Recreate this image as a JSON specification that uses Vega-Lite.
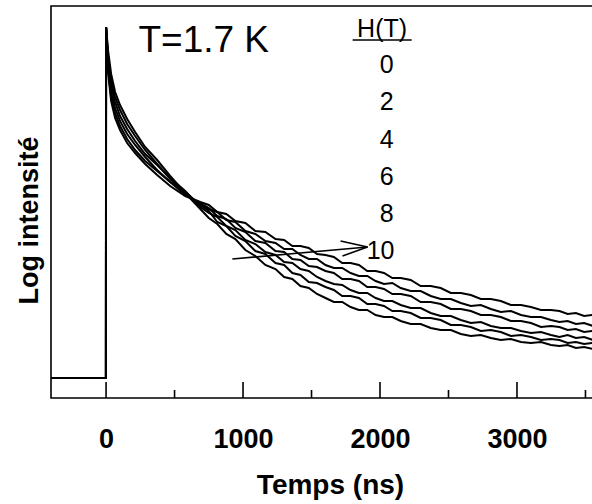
{
  "$schema": "https://vega.github.io/schema/vega-lite/v6.json",
  "width": 542,
  "height": 392,
  "autosize": {"type": "none"},
  "padding": {"left": 51, "top": 6, "right": 0, "bottom": 106},
  "background": "white",
  "config": {
    "view": {"stroke": "black", "strokeWidth": 1.6},
    "font": "Liberation Sans"
  },
  "layer": [
    {
      "data": {"values": [
        {"t": -402, "c0": 20, "c1": 20, "c2": 20, "c3": 20, "c4": 20, "c5": 20},
        {"t": -1, "c0": 20, "c1": 20, "c2": 20, "c3": 20, "c4": 20, "c5": 20},
        {"t": 0, "c0": 371, "c1": 371, "c2": 371, "c3": 371, "c4": 371, "c5": 371},
        {"t": 15, "c0": 325, "c1": 329, "c2": 333, "c3": 338, "c4": 342, "c5": 347},
        {"t": 37, "c0": 297, "c1": 301, "c2": 306, "c3": 312, "c4": 318, "c5": 324},
        {"t": 66, "c0": 280, "c1": 285, "c2": 290, "c3": 296, "c4": 301, "c5": 306},
        {"t": 102, "c0": 268, "c1": 272, "c2": 277, "c3": 282, "c4": 288, "c5": 293},
        {"t": 154, "c0": 255, "c1": 259, "c2": 264, "c3": 269, "c4": 274, "c5": 279},
        {"t": 212, "c0": 245, "c1": 248, "c2": 253, "c3": 257, "c4": 262, "c5": 266},
        {"t": 285, "c0": 234, "c1": 237, "c2": 241, "c3": 244, "c4": 248, "c5": 251},
        {"t": 373, "c0": 223, "c1": 227, "c2": 228, "c3": 233, "c4": 234, "c5": 238},
        {"t": 468, "c0": 212, "c1": 216, "c2": 216, "c3": 220, "c4": 219, "c5": 222},
        {"t": 578, "c0": 202, "c1": 206, "c2": 203, "c3": 207, "c4": 204, "c5": 205},
        {"t": 688, "c0": 196, "c1": 193, "c2": 195, "c3": 191, "c4": 193, "c5": 189},
        {"t": 750, "c0": 193, "c1": 189, "c2": 190, "c3": 185, "c4": 187, "c5": 180},
        {"t": 812, "c0": 186, "c1": 186, "c2": 182, "c3": 181, "c4": 176, "c5": 174},
        {"t": 878, "c0": 184, "c1": 178, "c2": 179, "c3": 172, "c4": 172, "c5": 164},
        {"t": 944, "c0": 177, "c1": 176, "c2": 170, "c3": 168, "c4": 162, "c5": 159},
        {"t": 1017, "c0": 175, "c1": 167, "c2": 166, "c3": 158, "c4": 157, "c5": 148},
        {"t": 1090, "c0": 167, "c1": 164, "c2": 157, "c3": 154, "c4": 147, "c5": 142},
        {"t": 1163, "c0": 166, "c1": 157, "c2": 155, "c3": 146, "c4": 144, "c5": 133},
        {"t": 1237, "c0": 159, "c1": 155, "c2": 147, "c3": 143, "c4": 135, "c5": 129},
        {"t": 1300, "c0": 158, "c1": 149, "c2": 146, "c3": 136, "c4": 133, "c5": 121},
        {"t": 1360, "c0": 152, "c1": 149, "c2": 139, "c3": 135, "c4": 125, "c5": 119},
        {"t": 1419, "c0": 152, "c1": 143, "c2": 138, "c3": 129, "c4": 123, "c5": 112},
        {"t": 1480, "c0": 150, "c1": 139, "c2": 132, "c3": 127, "c4": 116, "c5": 110},
        {"t": 1540, "c0": 144, "c1": 139, "c2": 131, "c3": 121, "c4": 115, "c5": 104},
        {"t": 1602, "c0": 143, "c1": 133, "c2": 127, "c3": 117, "c4": 111, "c5": 100},
        {"t": 1663, "c0": 141, "c1": 130, "c2": 125, "c3": 114, "c4": 108, "c5": 96},
        {"t": 1724, "c0": 135, "c1": 130, "c2": 119, "c3": 113, "c4": 102, "c5": 96},
        {"t": 1785, "c0": 135, "c1": 125, "c2": 119, "c3": 108, "c4": 102, "c5": 91},
        {"t": 1846, "c0": 133, "c1": 122, "c2": 117, "c3": 105, "c4": 100, "c5": 88},
        {"t": 1907, "c0": 127, "c1": 122, "c2": 111, "c3": 105, "c4": 94, "c5": 88},
        {"t": 1968, "c0": 127, "c1": 117, "c2": 111, "c3": 100, "c4": 94, "c5": 83},
        {"t": 2029, "c0": 125, "c1": 114, "c2": 109, "c3": 97, "c4": 92, "c5": 81},
        {"t": 2090, "c0": 120, "c1": 115, "c2": 104, "c3": 97, "c4": 87, "c5": 81},
        {"t": 2151, "c0": 120, "c1": 110, "c2": 104, "c3": 93, "c4": 87, "c5": 77},
        {"t": 2224, "c0": 118, "c1": 107, "c2": 102, "c3": 90, "c4": 85, "c5": 74},
        {"t": 2297, "c0": 112, "c1": 107, "c2": 96, "c3": 90, "c4": 80, "c5": 74},
        {"t": 2370, "c0": 112, "c1": 102, "c2": 96, "c3": 85, "c4": 80, "c5": 70},
        {"t": 2443, "c0": 110, "c1": 99, "c2": 94, "c3": 82, "c4": 78, "c5": 68},
        {"t": 2517, "c0": 105, "c1": 99, "c2": 89, "c3": 82, "c4": 73, "c5": 68},
        {"t": 2590, "c0": 105, "c1": 95, "c2": 89, "c3": 78, "c4": 73, "c5": 64},
        {"t": 2663, "c0": 103, "c1": 92, "c2": 87, "c3": 75, "c4": 71, "c5": 62},
        {"t": 2736, "c0": 99, "c1": 93, "c2": 83, "c3": 76, "c4": 67, "c5": 63},
        {"t": 2809, "c0": 99, "c1": 89, "c2": 83, "c3": 72, "c4": 68, "c5": 60},
        {"t": 2882, "c0": 97, "c1": 86, "c2": 81, "c3": 70, "c4": 66, "c5": 58},
        {"t": 2956, "c0": 93, "c1": 87, "c2": 77, "c3": 70, "c4": 62, "c5": 59},
        {"t": 3029, "c0": 93, "c1": 83, "c2": 77, "c3": 67, "c4": 63, "c5": 56},
        {"t": 3102, "c0": 91, "c1": 81, "c2": 75, "c3": 65, "c4": 61, "c5": 55},
        {"t": 3175, "c0": 88, "c1": 81, "c2": 71, "c3": 66, "c4": 58, "c5": 56},
        {"t": 3248, "c0": 88, "c1": 78, "c2": 72, "c3": 63, "c4": 59, "c5": 53},
        {"t": 3310, "c0": 87, "c1": 76, "c2": 71, "c3": 61, "c4": 58, "c5": 52},
        {"t": 3370, "c0": 84, "c1": 77, "c2": 68, "c3": 63, "c4": 55, "c5": 53},
        {"t": 3430, "c0": 85, "c1": 74, "c2": 69, "c3": 60, "c4": 56, "c5": 50},
        {"t": 3490, "c0": 82, "c1": 75, "c2": 66, "c3": 61, "c4": 54, "c5": 51},
        {"t": 3555, "c0": 83, "c1": 72, "c2": 67, "c3": 58, "c4": 55, "c5": 49}
      ]},
      "transform": [{"fold": ["c0", "c1", "c2", "c3", "c4", "c5"], "as": ["curve", "y"]}],
      "mark": {"type": "line", "color": "black", "strokeWidth": 2, "clip": true},
      "encoding": {
        "x": {"field": "t", "type": "quantitative",
          "scale": {"domain": [-402, 3555], "nice": false, "zero": false},
          "axis": {"values": [0, 1000, 2000, 3000], "format": "d", "domain": false, "ticks": false, "grid": false,
            "labelFont": "Liberation Sans", "labelFontSize": 27, "labelFontWeight": "bold", "labelColor": "black",
            "labelPadding": 28, "labelFlush": false,
            "title": "Temps (ns)", "titleFont": "Liberation Sans", "titleFontSize": 28, "titleFontWeight": "bold",
            "titleColor": "black", "titleBaseline": "alphabetic", "titleY": 95, "titleX": 279}},
        "y": {"field": "y", "type": "quantitative",
          "scale": {"domain": [0, 392], "nice": false},
          "axis": {"domain": false, "ticks": false, "labels": false, "grid": false,
            "title": "Log intensité", "titleFont": "Liberation Sans", "titleFontSize": 27, "titleFontWeight": "bold",
            "titleColor": "black", "titleAngle": -90, "titleBaseline": "alphabetic", "titleAlign": "center",
            "titleX": -14, "titleY": 214}},
        "detail": {"field": "curve", "type": "nominal"}
      }
    },
    {
      "data": {"values": [{"t": 0}, {"t": 1000}, {"t": 2000}, {"t": 3000}]},
      "mark": {"type": "rule", "color": "black", "strokeWidth": 1.6},
      "encoding": {
        "x": {"field": "t", "type": "quantitative"},
        "y": {"datum": 0},
        "y2": {"datum": 16}
      }
    },
    {
      "data": {"values": [{"t": 500}, {"t": 1500}, {"t": 2500}, {"t": 3500}]},
      "mark": {"type": "rule", "color": "black", "strokeWidth": 1.6},
      "encoding": {
        "x": {"field": "t", "type": "quantitative"},
        "y": {"datum": 0},
        "y2": {"datum": 8}
      }
    },
    {
      "data": {"values": [
        {"x1": 922, "y1": 139, "x2": 1909, "y2": 151},
        {"x1": 1712, "y1": 157, "x2": 1909, "y2": 151},
        {"x1": 1726, "y1": 142, "x2": 1909, "y2": 151},
        {"x1": 1800, "y1": 358, "x2": 2231, "y2": 358}
      ]},
      "mark": {"type": "rule", "color": "black", "strokeWidth": 1.6},
      "encoding": {
        "x": {"field": "x1", "type": "quantitative"},
        "x2": {"field": "x2"},
        "y": {"field": "y1", "type": "quantitative"},
        "y2": {"field": "y2"}
      }
    },
    {
      "data": {"values": [{"label": "T=1.7 K", "t": 713, "y": 346}]},
      "mark": {"type": "text", "font": "Liberation Sans", "fontSize": 37, "color": "black", "align": "center", "baseline": "alphabetic"},
      "encoding": {
        "x": {"field": "t", "type": "quantitative"},
        "y": {"field": "y", "type": "quantitative"},
        "text": {"field": "label"}
      }
    },
    {
      "data": {"values": [
        {"label": "H(T)", "t": 2015, "y": 361},
        {"label": "0", "t": 2048, "y": 325},
        {"label": "2", "t": 2048, "y": 288},
        {"label": "4", "t": 2048, "y": 250},
        {"label": "6", "t": 2048, "y": 213},
        {"label": "8", "t": 2048, "y": 176},
        {"label": "10", "t": 2004, "y": 139}
      ]},
      "mark": {"type": "text", "font": "Liberation Sans", "fontSize": 25, "color": "black", "align": "center", "baseline": "alphabetic"},
      "encoding": {
        "x": {"field": "t", "type": "quantitative"},
        "y": {"field": "y", "type": "quantitative"},
        "text": {"field": "label"}
      }
    }
  ]
}
